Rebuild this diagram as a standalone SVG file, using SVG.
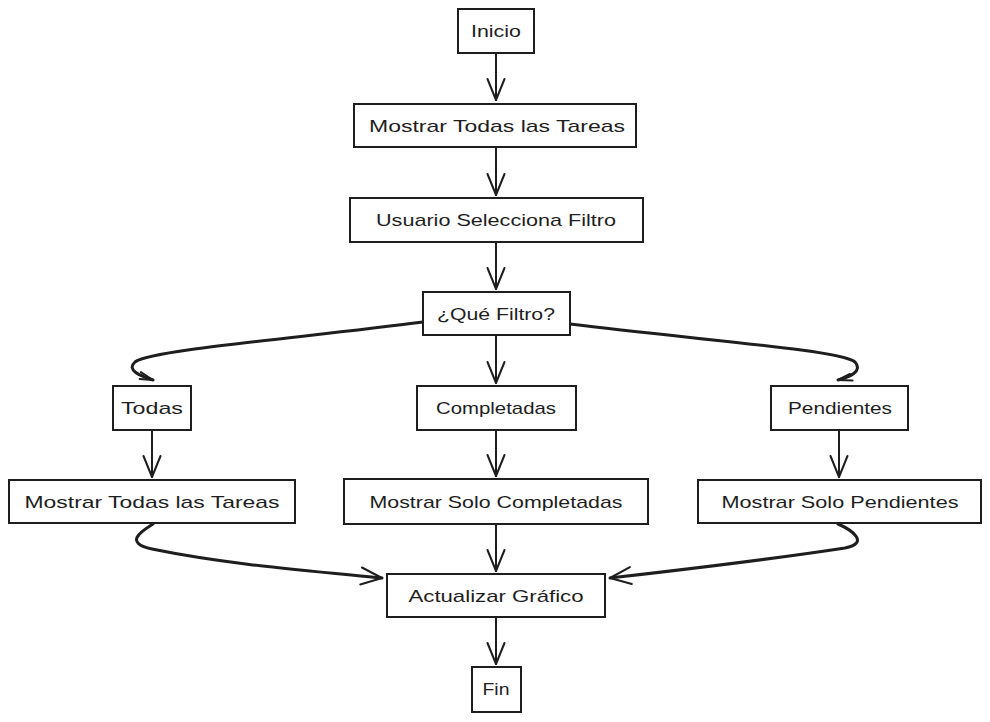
<svg xmlns="http://www.w3.org/2000/svg" width="990" height="722" viewBox="0 0 990 722">
  <defs>
    <style>
      .box { fill: #ffffff; stroke: #1e1e1e; stroke-width: 2; }
      .lbl { font-family: "Liberation Sans", "DejaVu Sans", sans-serif; font-size: 17px; fill: #1e1e1e; text-anchor: middle; }
      .edge { fill: none; stroke: #1e1e1e; stroke-width: 2; stroke-linecap: round; stroke-linejoin: round; }
      .bold { stroke-width: 3; }
    </style>
    <marker id="arrow" markerUnits="userSpaceOnUse" markerWidth="30" markerHeight="24" refX="0" refY="0" viewBox="-24 -12 30 24" orient="auto" overflow="visible">
      <path d="M -21,-8.5 L 0,0 L -21,8.5" fill="none" stroke="#1e1e1e" stroke-width="2" stroke-linecap="round" stroke-linejoin="round"/>
    </marker>
    <marker id="hook" markerUnits="userSpaceOnUse" markerWidth="20" markerHeight="12" refX="0" refY="0" viewBox="-16 -6 20 12" orient="auto" overflow="visible">
      <path d="M -14,-4 L 0,0 L -13,3" fill="none" stroke="#1e1e1e" stroke-width="2" stroke-linecap="round" stroke-linejoin="round"/>
    </marker>
  </defs>

  <rect width="990" height="722" fill="#ffffff"/>

  <!-- connectors -->
  <g id="connectors">
    <path class="edge" d="M 496,53 L 496,100" marker-end="url(#arrow)"/>
    <path class="edge" d="M 496,147 L 496,195" marker-end="url(#arrow)"/>
    <path class="edge" d="M 496,242 L 496,289" marker-end="url(#arrow)"/>
    <path class="edge" d="M 496,335 L 496,383" marker-end="url(#arrow)"/>
    <path class="edge bold" d="M 423,322 C 300,338 150,350 135,362 C 126,370 140,376 153,380" marker-end="url(#hook)"/>
    <path class="edge bold" d="M 570,324 C 700,340 840,350 855,362 C 863,371 850,377 838,380" marker-end="url(#hook)"/>
    <path class="edge" d="M 152,430 L 152,477" marker-end="url(#arrow)"/>
    <path class="edge" d="M 496,430 L 496,476" marker-end="url(#arrow)"/>
    <path class="edge" d="M 839,430 L 839,477" marker-end="url(#arrow)"/>
    <path class="edge bold" d="M 153,524 C 140,532 124,543 152,549 C 225,564 300,570 382,578" marker-end="url(#arrow)"/>
    <path class="edge" d="M 496,524 L 496,571" marker-end="url(#arrow)"/>
    <path class="edge bold" d="M 838,524 C 852,530 870,543 845,548 C 760,561 680,570 610,578" marker-end="url(#arrow)"/>
    <path class="edge" d="M 496,617 L 496,664" marker-end="url(#arrow)"/>
  </g>

  <!-- nodes -->
  <g id="inicio">
    <rect class="box" x="458" y="9" width="76" height="44"/>
    <text class="lbl" x="496" y="37" textLength="50" lengthAdjust="spacingAndGlyphs">Inicio</text>
  </g>
  <g id="mostrar-todas">
    <rect class="box" x="354" y="104" width="282" height="43"/>
    <text class="lbl" x="497" y="132" textLength="256" lengthAdjust="spacingAndGlyphs">Mostrar Todas las Tareas</text>
  </g>
  <g id="usuario-selecciona">
    <rect class="box" x="350" y="198" width="293" height="44"/>
    <text class="lbl" x="496" y="226" textLength="240" lengthAdjust="spacingAndGlyphs">Usuario Selecciona Filtro</text>
  </g>
  <g id="que-filtro">
    <rect class="box" x="423" y="292" width="147" height="43"/>
    <text class="lbl" x="496" y="320" textLength="118" lengthAdjust="spacingAndGlyphs">¿Qué Filtro?</text>
  </g>
  <g id="todas">
    <rect class="box" x="113" y="386" width="78" height="44"/>
    <text class="lbl" x="152" y="414" textLength="62" lengthAdjust="spacingAndGlyphs">Todas</text>
  </g>
  <g id="completadas">
    <rect class="box" x="417" y="386" width="159" height="44"/>
    <text class="lbl" x="496" y="414" textLength="120" lengthAdjust="spacingAndGlyphs">Completadas</text>
  </g>
  <g id="pendientes">
    <rect class="box" x="771" y="386" width="137" height="44"/>
    <text class="lbl" x="840" y="414" textLength="104" lengthAdjust="spacingAndGlyphs">Pendientes</text>
  </g>
  <g id="mostrar-todas-tareas">
    <rect class="box" x="9" y="480" width="286" height="43"/>
    <text class="lbl" x="152" y="508" textLength="255" lengthAdjust="spacingAndGlyphs">Mostrar Todas las Tareas</text>
  </g>
  <g id="mostrar-completadas">
    <rect class="box" x="344" y="479" width="304" height="45"/>
    <text class="lbl" x="496" y="508" textLength="253" lengthAdjust="spacingAndGlyphs">Mostrar Solo Completadas</text>
  </g>
  <g id="mostrar-pendientes">
    <rect class="box" x="698" y="480" width="283" height="43"/>
    <text class="lbl" x="840" y="508" textLength="237" lengthAdjust="spacingAndGlyphs">Mostrar Solo Pendientes</text>
  </g>
  <g id="actualizar-grafico">
    <rect class="box" x="387" y="574" width="218" height="43"/>
    <text class="lbl" x="496" y="602" textLength="175" lengthAdjust="spacingAndGlyphs">Actualizar Gráfico</text>
  </g>
  <g id="fin">
    <rect class="box" x="472" y="667" width="49" height="45"/>
    <text class="lbl" x="496" y="695" textLength="27" lengthAdjust="spacingAndGlyphs">Fin</text>
  </g>
</svg>
